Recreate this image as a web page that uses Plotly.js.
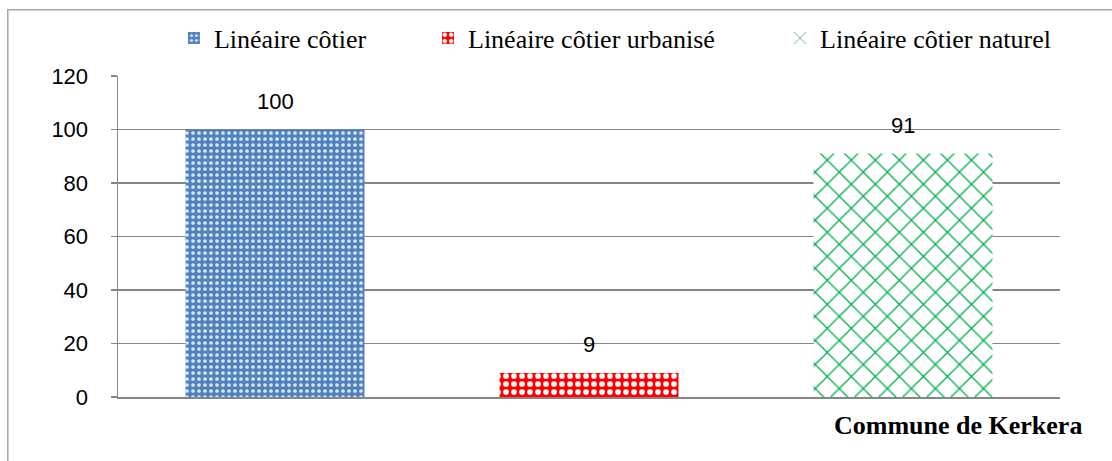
<!DOCTYPE html>
<html>
<head>
<meta charset="utf-8">
<script src="https://cdn.plot.ly/plotly-3.0.1.min.js"></script>
<style>
html,body{margin:0;padding:0;background:#fff;}
#chart{width:1112px;height:461px;}
</style>
</head>
<body>
<div id="chart"></div>
<script>
// Data
const categories = ["Commune de Kerkera"];
const seriesNames = ["Linéaire côtier", "Linéaire côtier urbanisé", "Linéaire côtier naturel"];
const seriesValues = [[100], [9], [91]];
const yTicks = [0, 20, 40, 60, 80, 100, 120];

const patterns = [
  {shape: ".", bgcolor: "#4f81bd", fgcolor: "#dce6f4", size: 6, solidity: 0.3},
  {shape: ".", bgcolor: "#ff0000", fgcolor: "#ffffff", size: 8, solidity: 0.4},
  {shape: "x", bgcolor: "#ffffff", fgcolor: "#00b050", size: 17, solidity: 0.15}
];
const legendX = [0.0594, 0.3291, 0.7028];
const legendIds = ["legend", "legend2", "legend3"];

const traces = seriesNames.map((name, i) => ({
  type: "bar",
  name: name,
  x: categories,
  y: seriesValues[i],
  marker: {color: patterns[i].bgcolor, pattern: patterns[i], line: {width: 0}},
  legend: legendIds[i],
  hoverinfo: "none"
}));

const n = seriesNames.length;
const annotations = [];
seriesNames.forEach((name, i) => {
  seriesValues[i].forEach((v, j) => {
    annotations.push({
      x: j + (i - (n - 1) / 2) / n,
      y: v, xref: "x", yref: "y",
      text: String(v), showarrow: false,
      yanchor: "bottom", yshift: 14,
      font: {family: "Liberation Sans, Arial, sans-serif", size: 22, color: "#000"}
    });
  });
});
annotations.push({
  xref: "paper", yref: "paper", x: 0.892, y: -0.09,
  xanchor: "center", yanchor: "middle",
  text: "<b>" + categories[0] + "</b>", showarrow: false,
  font: {family: "Liberation Serif, Times New Roman, serif", size: 26, color: "#000"}
});

const legendBase = {
  orientation: "h", yanchor: "middle", xanchor: "left", y: 1.118,
  bgcolor: "rgba(0,0,0,0)", borderwidth: 0,
  font: {family: "Liberation Serif, Times New Roman, serif", size: 26, color: "#000"},
  itemwidth: 30
};

const layout = {
  width: 1112, height: 461,
  margin: {l: 118, r: 52, t: 76, b: 64},
  paper_bgcolor: "#fff", plot_bgcolor: "#fff",
  barmode: "group", bargap: 0, bargroupgap: 0.43,
  showlegend: true,
  legend: Object.assign({}, legendBase, {x: legendX[0]}),
  legend2: Object.assign({}, legendBase, {x: legendX[1]}),
  legend3: Object.assign({}, legendBase, {x: legendX[2]}),
  xaxis: {
    type: "category", showticklabels: false, showgrid: false,
    showline: true, linecolor: "#868686", linewidth: 1.5,
    ticks: "", range: [-0.5, 0.5], fixedrange: true
  },
  yaxis: {
    range: [0, 120], tickvals: yTicks, ticktext: yTicks.map(String),
    showgrid: true, gridcolor: "#868686", gridwidth: 1.3,
    showline: true, linecolor: "#868686", linewidth: 1.5,
    ticks: "outside", ticklen: 6, tickcolor: "#868686", tickwidth: 1.3,
    ticklabelstandoff: 18, zeroline: false,
    tickfont: {family: "Liberation Sans, Arial, sans-serif", size: 22, color: "#000"},
    fixedrange: true
  },
  annotations: annotations,
  shapes: [{
    type: "path", xref: "paper", yref: "paper",
    path: "M -0.117,-0.3 L -0.117,1.206 L 1.2,1.206",
    line: {color: "#a6a6a6", width: 1.5}
  }]
};

Plotly.newPlot("chart", traces, layout, {staticPlot: true, displayModeBar: false});
</script>
</body>
</html>
